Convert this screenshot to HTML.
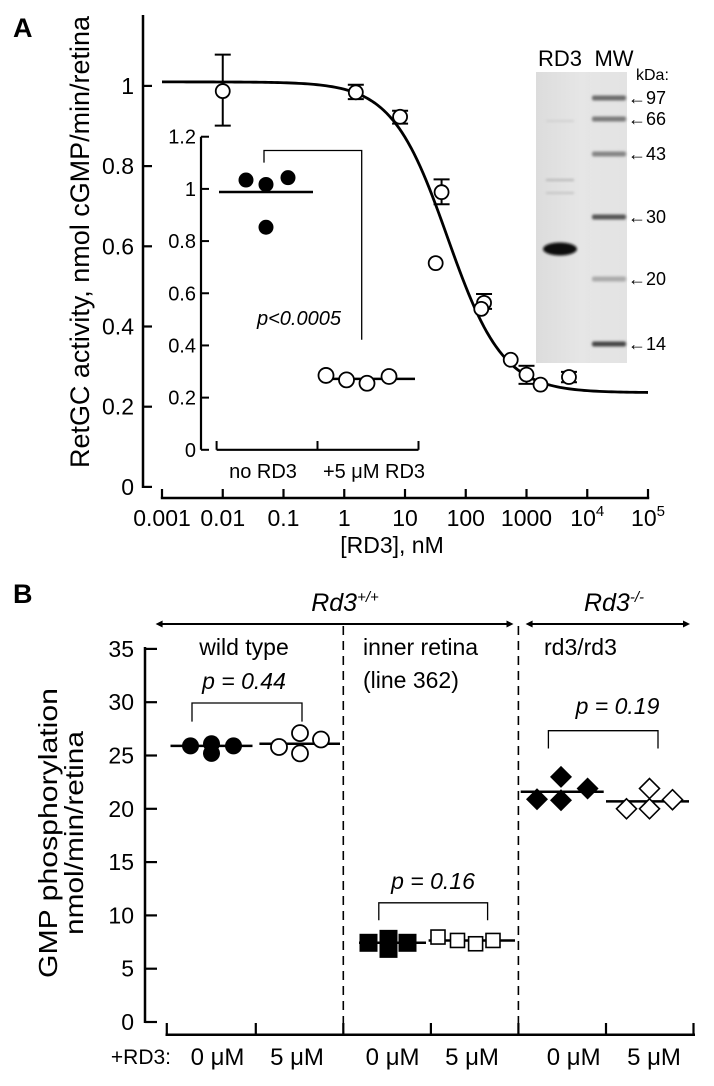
<!DOCTYPE html>
<html><head><meta charset="utf-8"><style>
html,body{margin:0;padding:0;background:#fff;}
svg{display:block;font-family:"Liberation Sans",Arial,sans-serif;}
</style></head><body>
<svg id="fig" width="714" height="1086" viewBox="0 0 714 1086" xmlns="http://www.w3.org/2000/svg">
<defs>
<filter id="blur1" x="-20%" y="-100%" width="140%" height="300%"><feGaussianBlur stdDeviation="1.2"/></filter>
<linearGradient id="gelg" x1="0" x2="1" y1="0" y2="0"><stop offset="0" stop-color="#dcdcdc"/><stop offset="0.5" stop-color="#e6e6e6"/><stop offset="1" stop-color="#dedede"/></linearGradient>
</defs>
<text x="13" y="37" font-size="27" font-weight="bold">A</text>
<text x="13" y="603" font-size="27" font-weight="bold">B</text>
<g id="gA"></g>
<g id="gB"></g>
</svg>
<script>
// ---------- Panel A data ----------
const aConc = [0.01, 1.55, 8.3, 40, 32, 200, 180, 550, 1000, 1700, 5000];
const aVals = [0.987, 0.984, 0.923, 0.735, 0.558, 0.459, 0.444, 0.317, 0.280, 0.255, 0.274];
const aErrHi = [1.078, 1.003, 0.938, 0.767, null, 0.481, null, null, 0.302, null, 0.287];
const aErrLo = [0.901, 0.967, 0.906, 0.705, null, 0.444, null, null, 0.257, null, 0.261];
const curveTop = [1.01];
const curveBottom = [0.235];
const curveIC50 = [50];
const curveHill = [0.95];
const aYTicks = [0, 0.2, 0.4, 0.6, 0.8, 1];
const aYTickLabels = ["0", "0.2", "0.4", "0.6", "0.8", "1"];
const aXTicks = [-3, -2, -1, 0, 1, 2, 3, 4, 5];
const aXTickLabels = ["0.001", "0.01", "0.1", "1", "10", "100", "1000", "10^4", "10^5"];
// inset
const insetCats = ["no RD3", "+5 μM RD3"];
const insetNoRD3 = [1.034, 1.017, 1.043, 0.853];
const insetRD3 = [0.285, 0.268, 0.255, 0.281];
const insetMeans = [0.988, 0.272];
const insetYTicks = [0, 0.2, 0.4, 0.6, 0.8, 1, 1.2];
const insetYTickLabels = ["0", "0.2", "0.4", "0.6", "0.8", "1", "1.2"];
const gelMarkers = ["97", "66", "43", "30", "20", "14"];
// ---------- Panel B data ----------
const bGroups = ["wt-0", "wt-5", "inner-0", "inner-5", "rd3-0", "rd3-5"];
const bXLabels = ["0 μM", "5 μM", "0 μM", "5 μM", "0 μM", "5 μM"];
const bWt0 = [25.9, 26.1, 25.2, 25.9];
const bWt5 = [25.8, 27.1, 25.2, 26.5];
const bInner0 = [7.43, 7.8, 6.86, 7.43];
const bInner5 = [7.97, 7.65, 7.34, 7.65];
const bRd0 = [20.9, 23.0, 20.8, 21.9];
const bRd5 = [20.0, 21.9, 20.0, 20.85];
const bMeans = [25.9, 26.1, 7.43, 7.65, 21.6, 20.7];
const bYTicks = [0, 5, 10, 15, 20, 25, 30, 35];
const bYTickLabels = ["0", "5", "10", "15", "20", "25", "30", "35"];
const bPvals = ["p = 0.44", "p = 0.16", "p = 0.19"];

const NS = "http://www.w3.org/2000/svg";
function mk(parent, tag, attrs, txt) {
  const e = document.createElementNS(NS, tag);
  for (const k in attrs) e.setAttribute(k, attrs[k]);
  if (txt !== undefined) e.textContent = txt;
  parent.appendChild(e);
  return e;
}
const gA = document.getElementById('gA');
const gB = document.getElementById('gB');

// ---------- Panel A ----------
const xA = lv => 162 + (lv + 3) * 60.75;
const xAc = c => xA(Math.log10(c));
const yA = v => 486.9 - v * 401;
const yI = v => 449.8 - v * 260.9;

let e;
e = mk(gA, 'line', {x1:143, y1:15, x2:143, y2:488, stroke:'#000', 'stroke-width':2.5});


e = mk(gA, 'line', {x1:160.8, y1:498, x2:649.2, y2:498, stroke:'#000', 'stroke-width':2.5});


aYTicks.forEach((t, i) => {
  const tk = mk(gA, 'line', {x1:143, y1:yA(t), x2:152, y2:yA(t), stroke:'#000', 'stroke-width':2.2});
  
  
  const lb = mk(gA, 'text', {x:134, y:yA(t) + 8, 'font-size':23, 'text-anchor':'end'}, aYTickLabels[i]);
  
  
});
aXTicks.forEach((t, i) => {
  const tk = mk(gA, 'line', {x1:xA(t), y1:489, x2:xA(t), y2:498, stroke:'#000', 'stroke-width':2.2});
  
  
  const s = aXTickLabels[i];
  const lb = mk(gA, 'text', {x:xA(t), y:526, 'font-size':23, 'text-anchor':'middle'});
  
  
  if (s.indexOf('^') >= 0) {
    const p = s.split('^');
    mk(lb, 'tspan', {}, p[0]);
    mk(lb, 'tspan', {dy:-10, 'font-size':15}, p[1]);
  } else lb.textContent = s;
});
e = mk(gA, 'text', {x:392, y:553, 'font-size':23, 'text-anchor':'middle'}, '[RD3], nM');


e = mk(gA, 'text', {x:0, y:0, 'font-size':27, 'text-anchor':'middle', transform:'translate(89,242) rotate(-90)', textLength:452, lengthAdjust:'spacingAndGlyphs'}, 'RetGC activity, nmol cGMP/min/retina');



// fitted curve
let d = '';
for (let lv = -3; lv <= 5.0001; lv += 0.05) {
  const c = Math.pow(10, lv);
  const v = curveBottom[0] + (curveTop[0] - curveBottom[0]) / (1 + Math.pow(c / curveIC50[0], curveHill[0]));
  d += (d ? 'L' : 'M') + xA(lv).toFixed(2) + ',' + yA(v).toFixed(2);
}
e = mk(gA, 'path', {d:d, fill:'none', stroke:'#000', 'stroke-width':2.8});



// gel
const gel = mk(gA, 'g', {});


mk(gel, 'rect', {x:536, y:72, width:91, height:291, fill:'url(#gelg)'});
mk(gel, 'rect', {x:590, y:72, width:37, height:291, fill:'#e6e6e6', opacity:0.6});
const markerY = [98, 119, 154, 217, 279, 344];
const markerShade = ['#6a6a6a', '#7a7a7a', '#858585', '#555', '#aaa', '#444'];
gelMarkers.forEach((m, i) => {
  const b = mk(gel, 'rect', {x:592, y:markerY[i] - 2.5, width:34, height:5, rx:2, fill:markerShade[i], filter:'url(#blur1)'});
  
  
  const ar = mk(gel, 'text', {x:628, y:markerY[i] + 6, 'font-size':18}, '←' + m);
  
  
});
e = mk(gel, 'ellipse', {cx:560, cy:249, rx:17, ry:6.5, fill:'#111', filter:'url(#blur1)'});


mk(gel, 'rect', {x:546, y:179, width:28, height:2, fill:'#b5b5b5', filter:'url(#blur1)'});
mk(gel, 'rect', {x:546, y:192, width:28, height:2, fill:'#c3c3c3', filter:'url(#blur1)'});
mk(gel, 'rect', {x:546, y:120, width:28, height:2, fill:'#d0d0d0', filter:'url(#blur1)'});
e = mk(gA, 'text', {x:560, y:66, 'font-size':22, 'text-anchor':'middle'}, 'RD3');


e = mk(gA, 'text', {x:614, y:66, 'font-size':22, 'text-anchor':'middle'}, 'MW');


e = mk(gA, 'text', {x:636, y:80, 'font-size':16}, 'kDa:');



// error bars and points
aConc.forEach((c, i) => {
  const x = xAc(c);
  if (aErrHi[i] !== null) {
    const eb = mk(gA, 'g', {stroke:'#000', 'stroke-width':2});
    
    
    mk(eb, 'line', {x1:x, y1:yA(aErrHi[i]), x2:x, y2:yA(aErrLo[i])});
    mk(eb, 'line', {x1:x - 8, y1:yA(aErrHi[i]), x2:x + 8, y2:yA(aErrHi[i])});
    mk(eb, 'line', {x1:x - 8, y1:yA(aErrLo[i]), x2:x + 8, y2:yA(aErrLo[i])});
  }
});
aConc.forEach((c, i) => {
  const pt = mk(gA, 'circle', {cx:xAc(c), cy:yA(aVals[i]), r:7, fill:'#fff', stroke:'#000', 'stroke-width':1.8});
  
  
});

// inset
e = mk(gA, 'line', {x1:201, y1:136.7, x2:201, y2:449.8, stroke:'#000', 'stroke-width':2.2});


e = mk(gA, 'line', {x1:216.6, y1:449.8, x2:418.5, y2:449.8, stroke:'#000', 'stroke-width':2.2});


[216.6, 317.5, 418.5].forEach(x => {
  const tk = mk(gA, 'line', {x1:x, y1:441, x2:x, y2:449.8, stroke:'#000', 'stroke-width':2});
  
  
});
insetYTicks.forEach((t, i) => {
  const tk = mk(gA, 'line', {x1:201, y1:yI(t), x2:209, y2:yI(t), stroke:'#000', 'stroke-width':2});
  
  
  const lb = mk(gA, 'text', {x:196, y:yI(t) + 7, 'font-size':20, 'text-anchor':'end'}, insetYTickLabels[i]);
  
  
});
const insetCenters = [266, 367];
insetCats.forEach((c, i) => {
  const lb = mk(gA, 'text', {x:[263, 374][i], y:478, 'font-size':20, 'text-anchor':'middle'}, c);
  
  
});
const inOff0 = [-20, 0, 22, 0];
const inOff1 = [-41, -20.5, 0, 22];
e = mk(gA, 'line', {x1:219, y1:yI(insetMeans[0]), x2:313, y2:yI(insetMeans[0]), stroke:'#000', 'stroke-width':2.5});


e = mk(gA, 'line', {x1:319, y1:yI(insetMeans[1]), x2:415, y2:yI(insetMeans[1]), stroke:'#000', 'stroke-width':2.5});


insetNoRD3.forEach((v, i) => {
  const pt = mk(gA, 'circle', {cx:insetCenters[0] + inOff0[i], cy:yI(v), r:7.5, fill:'#000'});
  
  
});
insetRD3.forEach((v, i) => {
  const pt = mk(gA, 'circle', {cx:insetCenters[1] + inOff1[i], cy:yI(v), r:7.5, fill:'#fff', stroke:'#000', 'stroke-width':1.8});
  
  
});
e = mk(gA, 'path', {d:'M264,162.6 V150.5 H361.7 V339.8', fill:'none', stroke:'#000', 'stroke-width':1.3});


e = mk(gA, 'text', {x:299, y:325, 'font-size':20, 'font-style':'italic', 'text-anchor':'middle'}, 'p<0.0005');



// ---------- Panel B ----------
const yB = v => 1022 - v * 10.66;
const bTickX = [166.8, 255.8, 343.3, 430.9, 518.4, 606, 693.5];
e = mk(gB, 'line', {x1:145, y1:647, x2:145, y2:1023, stroke:'#000', 'stroke-width':2.5});


e = mk(gB, 'line', {x1:165.5, y1:1034.7, x2:695, y2:1034.7, stroke:'#000', 'stroke-width':2.5});


bTickX.forEach(x => {
  const tk = mk(gB, 'line', {x1:x, y1:1023, x2:x, y2:1034.7, stroke:'#000', 'stroke-width':2.2});
  
  
});
bYTicks.forEach((t, i) => {
  const tk = mk(gB, 'line', {x1:145, y1:yB(t), x2:157, y2:yB(t), stroke:'#000', 'stroke-width':2.2});
  
  
  const lb = mk(gB, 'text', {x:134, y:yB(t) + 8, 'font-size':23, 'text-anchor':'end'}, bYTickLabels[i]);
  
  
});
const bLabelX = [217.5, 297, 392.6, 472, 573.7, 654];
bXLabels.forEach((s, i) => {
  const lb = mk(gB, 'text', {x:bLabelX[i], y:1065, 'font-size':24, 'text-anchor':'middle'}, s);
  
  
});
e = mk(gB, 'text', {x:171, y:1064, 'font-size':21, 'text-anchor':'end'}, '+RD3:');


[343.3, 518.4].forEach(x => {
  const dl = mk(gB, 'line', {x1:x, y1:626, x2:x, y2:1035, stroke:'#000', 'stroke-width':1.6, 'stroke-dasharray':'9,6'});
  
  
});
function dblArrow(x1, x2, name) {
  const g = mk(gB, 'g', {});
  
  
  mk(g, 'line', {x1:x1, y1:624, x2:x2, y2:624, stroke:'#000', 'stroke-width':2});
  mk(g, 'path', {d:`M${x1 - 2},624 L${x1 + 5},620.5 L${x1 + 5},627.5 Z`, fill:'#000'});
  mk(g, 'path', {d:`M${x2 + 2},624 L${x2 - 5},620.5 L${x2 - 5},627.5 Z`, fill:'#000'});
}
dblArrow(157.6, 511.5, 'rd3-wt-range-arrow');
dblArrow(527.6, 688, 'rd3-ko-range-arrow');
e = mk(gB, 'text', {x:345, y:611, 'font-size':25, 'font-style':'italic', 'text-anchor':'middle'});


mk(e, 'tspan', {}, 'Rd3');
mk(e, 'tspan', {dy:-9, 'font-size':15}, '+/+');
e = mk(gB, 'text', {x:614, y:611, 'font-size':25, 'font-style':'italic', 'text-anchor':'middle'});


mk(e, 'tspan', {}, 'Rd3');
mk(e, 'tspan', {dy:-9, 'font-size':15}, '-/-');
e = mk(gB, 'text', {x:244, y:655, 'font-size':23, 'text-anchor':'middle'}, 'wild type');


e = mk(gB, 'text', {x:363, y:655, 'font-size':23}, 'inner retina');


e = mk(gB, 'text', {x:363, y:688, 'font-size':23}, '(line 362)');


e = mk(gB, 'text', {x:544, y:655, 'font-size':23}, 'rd3/rd3');


e = mk(gB, 'text', {x:0, y:0, 'font-size':26, 'text-anchor':'middle', transform:'translate(57,833) rotate(-90)', textLength:290, lengthAdjust:'spacingAndGlyphs'}, 'GMP phosphorylation');


e = mk(gB, 'text', {x:0, y:0, 'font-size':26, 'text-anchor':'middle', transform:'translate(83,833) rotate(-90)', textLength:204, lengthAdjust:'spacingAndGlyphs'}, 'nmol/min/retina');



// brackets + p values
const brk = [[192, 302, 703, 721.6, 244, 689], [378.8, 487.6, 902.8, 920.3, 433, 889], [548.4, 658, 730.7, 748.5, 617.5, 714]];
brk.forEach((b, i) => {
  const pth = mk(gB, 'path', {d:`M${b[0]},${b[3]} V${b[2]} H${b[1]} V${b[3]}`, fill:'none', stroke:'#000', 'stroke-width':1.3});
  
  
  const t = mk(gB, 'text', {x:b[4], y:b[5], 'font-size':23, 'font-style':'italic', 'text-anchor':'middle'}, bPvals[i]);
  
  
});

// mean lines
const meanSpan = [[170.5, 252.5], [259.4, 340], [359, 426], [428.6, 515], [520.7, 603.7], [606, 689]];
bMeans.forEach((m, i) => {
  const ml = mk(gB, 'line', {x1:meanSpan[i][0], y1:yB(m), x2:meanSpan[i][1], y2:yB(m), stroke:'#000', 'stroke-width':2.5});
  
  
});
// points
const centers = [211.5, 300, 388.5, 472, 562, 647.5];
const offs = [[-21, 0, 0, 22], [-21, 0, 0, 21], [-20, 0, 0, 19], [-34, -14.5, 3.6, 21], [-25, -1, -1, 25.6], [-21, 2, 2, 25]];
const series = [bWt0, bWt5, bInner0, bInner5, bRd0, bRd5];
series.forEach((arr, gi) => {
  arr.forEach((v, j) => {
    const x = centers[gi] + offs[gi][j], y = yB(v);
    let m;
    if (gi === 0) m = mk(gB, 'circle', {cx:x, cy:y, r:8.5, fill:'#000'});
    else if (gi === 1) m = mk(gB, 'circle', {cx:x, cy:y, r:8, fill:'#fff', stroke:'#000', 'stroke-width':1.8});
    else if (gi === 2) m = mk(gB, 'rect', {x:x - 9, y:y - 9, width:18, height:18, fill:'#000'});
    else if (gi === 3) m = mk(gB, 'rect', {x:x - 7, y:y - 7, width:14, height:14, fill:'#fff', stroke:'#000', 'stroke-width':1.6});
    else if (gi === 4) m = mk(gB, 'path', {d:`M${x},${y - 11} L${x + 11},${y} L${x},${y + 11} L${x - 11},${y} Z`, fill:'#000'});
    else m = mk(gB, 'path', {d:`M${x},${y - 10} L${x + 10},${y} L${x},${y + 10} L${x - 10},${y} Z`, fill:'#fff', stroke:'#000', 'stroke-width':1.6});
    
    
  });
});
</script>
</body></html>
